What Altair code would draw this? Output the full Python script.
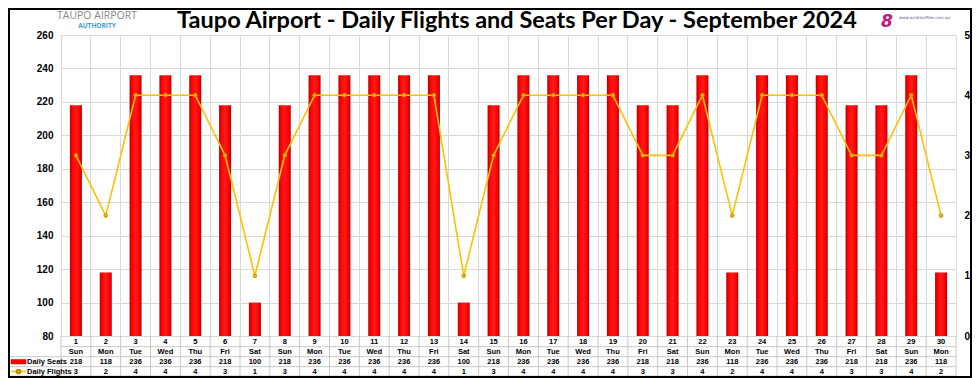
import altair as alt
import pandas as pd

days = [str(d) for d in range(1, 31)]
dow = ["Sun", "Mon", "Tue", "Wed", "Thu", "Fri", "Sat"] * 4 + ["Sun", "Mon"]
seats = [218, 118, 236, 236, 236, 218, 100, 218, 236, 236, 236, 236, 236, 100, 218,
         236, 236, 236, 236, 218, 218, 236, 118, 236, 236, 236, 218, 218, 236, 118]
flights = [3, 2, 4, 4, 4, 3, 1, 3, 4, 4, 4, 4, 4, 1, 3,
           4, 4, 4, 4, 3, 3, 4, 2, 4, 4, 4, 3, 3, 4, 2]
title_text = "Taupo Airport - Daily Flights and Seats Per Day - September 2024"

df = pd.DataFrame({"day": days, "dow": dow, "seats": seats, "flights": flights})

W, H = 895, 301
GRID = "#d9d9d9"
TBL = "#c8c8c8"

base = alt.Chart(df)
xenc = alt.X("day:O", sort=days,
             scale=alt.Scale(paddingInner=0, paddingOuter=0),
             axis=alt.Axis(bandPosition=0, grid=True, gridColor=GRID, labels=False,
                           ticks=False, domain=False, title=None))

red_grad = alt.LinearGradient(
    gradient="linear", x1=0, x2=1, y1=0, y2=0,
    stops=[alt.GradientStop(color="#b00000", offset=0),
           alt.GradientStop(color="#ff0000", offset=0.18),
           alt.GradientStop(color="#ff1a1a", offset=0.5),
           alt.GradientStop(color="#ff0000", offset=0.82),
           alt.GradientStop(color="#b00000", offset=1)])

bars = base.mark_bar(size=12, color=red_grad, clip=True).encode(
    x=xenc,
    y=alt.Y("seats:Q", scale=alt.Scale(domain=[80, 260], zero=False, nice=False),
            axis=alt.Axis(values=list(range(80, 261, 20)), grid=True, gridColor=GRID,
                          labelFontWeight="bold", labelFontSize=10, labelFont="Liberation Sans",
                          tickSize=0, domain=False, labelPadding=8, title=None,
                          labelColor="#000")),
    y2=alt.datum(80),
)

line = base.mark_line(color="#ffc000", strokeWidth=1.6,
                      point=alt.OverlayMarkDef(filled=True, fill="#e6b800", stroke="#b38f00",
                                               strokeWidth=0.8, size=14)).encode(
    x=alt.X("day:O", sort=days),
    y=alt.Y("flights:Q", scale=alt.Scale(domain=[0, 5], nice=False),
            axis=alt.Axis(orient="right", values=[0, 1, 2, 3, 4, 5], grid=False,
                          labelFontWeight="bold", labelFontSize=10, labelFont="Liberation Sans",
                          tickSize=0, domain=False, labelPadding=8, title=None,
                          labelColor="#000")),
)

# table vertical lines
vlines = base.mark_rule(color=TBL, strokeWidth=1).encode(
    x=alt.X("day:O", sort=days, bandPosition=0),
    y=alt.value(H), y2=alt.value(H + 40))

one = alt.Chart(pd.DataFrame({"k": [0]}))


def rule(x1, x2, y1, y2, color=TBL, w=1):
    return one.mark_rule(color=color, strokeWidth=w).encode(
        x=alt.value(x1), x2=alt.value(x2), y=alt.value(y1), y2=alt.value(y2))


extra_lines = [
    rule(W, W, H, H + 40),
    rule(0, W, H + 10.7, H + 10.7),
    rule(-53, W, H + 20.7, H + 20.7),
    rule(-53, W, H + 30.7, H + 30.7),
    rule(-53, W, H + 40, H + 40),
    rule(-53, -53, H + 20.7, H + 40),
]


def row(field, ypos):
    return base.mark_text(fontSize=7.5, fontWeight="bold", font="Liberation Sans",
                          color="#000", baseline="middle").encode(
        x=alt.X("day:O", sort=days), y=alt.value(ypos), text=f"{field}:N")


rows = [row("day", H + 5.7), row("dow", H + 15.7), row("seats", H + 25.7),
        row("flights", H + 35.7)]

# legend cells
leg_red = one.mark_rect(color="#ff0000", stroke="#b00000", strokeWidth=0.5).encode(
    x=alt.value(-50), x2=alt.value(-35), y=alt.value(H + 23.5), y2=alt.value(H + 28))
leg_line = rule(-50, -35, H + 35.5, H + 35.5, color="#ffc000", w=1.6)
leg_pt = one.mark_point(filled=True, fill="#e6b800", stroke="#b38f00", size=14, opacity=1).encode(
    x=alt.value(-42.5), y=alt.value(H + 35.5))
leg_t1 = one.mark_text(text="Daily Seats", fontSize=7.5, fontWeight="bold", font="Liberation Sans",
                       align="left", baseline="middle", color="#000").encode(
    x=alt.value(-34), y=alt.value(H + 25.7))
leg_t2 = one.mark_text(text="Daily Flights", fontSize=7.5, fontWeight="bold", font="Liberation Sans",
                       align="left", baseline="middle", color="#000").encode(
    x=alt.value(-34), y=alt.value(H + 35.7))

# title and logos
title = one.mark_text(text=title_text, fontSize=23.5, fontWeight="bold", font="Lato",
                      align="center", baseline="alphabetic", color="#000").encode(
    x=alt.value(456), y=alt.value(-7))
logo1 = one.mark_text(text="TAUPO AIRPORT", fontSize=10.5, font="Open Sans", color="#8a8a8a",
                      align="center", baseline="middle").encode(
    x=alt.value(36), y=alt.value(-19))
logo2 = one.mark_text(text="AUTHORITY", fontSize=6.5, font="Open Sans", color="#3da0d8",
                      fontWeight="bold", align="center", baseline="middle").encode(
    x=alt.value(36), y=alt.value(-9))
logo3 = one.mark_text(text="8", fontSize=17, font="DejaVu Sans", fontWeight="bold",
                      fontStyle="italic", color="#c2187a", align="center",
                      baseline="middle").encode(x=alt.value(826), y=alt.value(-13))
logo4 = one.mark_text(text="www.aviationfiles.com.au", fontSize=4, font="DejaVu Sans",
                      color="#6a4c93", align="left", baseline="middle").encode(
    x=alt.value(838), y=alt.value(-17))

frame = one.mark_rect(filled=False, stroke="#000", strokeWidth=2).encode(
    x=alt.value(-52), x2=alt.value(910), y=alt.value(-26), y2=alt.value(H + 41))

chart = alt.layer(
    bars, line, vlines, *extra_lines, *rows, leg_red, leg_line, leg_pt, leg_t1, leg_t2,
    title, logo1, logo2, logo3, logo4, frame
).resolve_scale(y="independent").properties(
    width=W, height=H,
    autosize=alt.AutoSizeParams(type="none"),
    padding={"left": 53, "top": 27, "right": 16, "bottom": 42},
).configure_view(stroke="#000", strokeWidth=2).configure(background="white")

chart.save("out.html", embed_options={"renderer": "svg", "actions": False})
